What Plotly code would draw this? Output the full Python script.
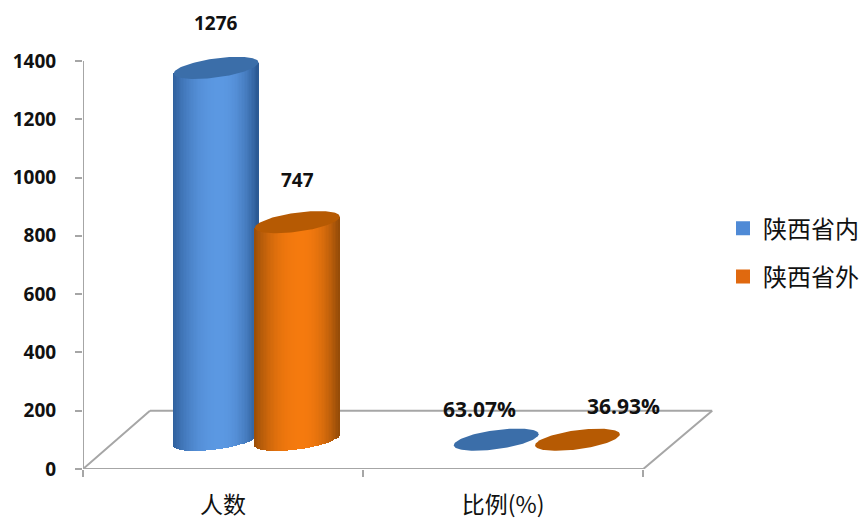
import numpy as np
import plotly.graph_objects as go

categories = ["人数", "比例(%)"]
series_names = ["陕西省内", "陕西省外"]
inside_values = [1276, 63.07]
outside_values = [747, 36.93]
inside_labels = ["1276", "63.07%"]
outside_labels = ["747", "36.93%"]
y_ticks = [0, 200, 400, 600, 800, 1000, 1200, 1400]

FLOOR = 100
OFFSETS = [0.475, 0.765]
HALF = 0.1515
CAP_B = 33
CAP_TILT = 19
STRIPS = 60
GREY = "#a6a6a6"
TEXT = "#111111"
CJK = "Noto Sans CJK SC"
LATIN = "Open Sans"
SIDE = [("#2f5f9c", "#5b98e2", "#2a5791"), ("#9a4e08", "#f57a0e", "#924a08")]
CAP = ["#3b6ea9", "#b65a03"]
LEGEND = ["#4f8ad6", "#e0690f"]
# label shifts from the top of each cylinder: (x, y) for [series][category]
LABEL_SHIFT = [[(0.0, 155), (-0.06, 105)], [(0.0, 146), (0.164, 117)]]
PLOT_TOP = 1568
X_MAX = 781 / 280.5


def mix(c1, c2, f):
    a = [int(c1[i:i + 2], 16) for i in (1, 3, 5)]
    b = [int(c2[i:i + 2], 16) for i in (1, 3, 5)]
    return "rgb(%d,%d,%d)" % tuple(round(p + (q - p) * f) for p, q in zip(a, b))


def height(values, i):
    # the percentages are plotted as fractions on the count scale
    return values[i] if i == 0 else values[i] / 100


fig = go.Figure()
for s, values in enumerate([inside_values, outside_values]):
    t = (np.arange(STRIPS) + 0.5) / STRIPS * 2 - 1
    xs = OFFSETS[s] + t * HALF
    tops = FLOOR + height(values, 0) + CAP_TILT * t
    lows = FLOOR + CAP_TILT * t - CAP_B * np.sqrt(1 - t ** 2)
    left, mid, right = SIDE[s]
    colors = []
    for u in t:
        if u < 0.1:
            colors.append(mix(mid, left, (abs(u - 0.1) / 1.1) ** 2.2))
        else:
            colors.append(mix(mid, right, ((u - 0.1) / 0.9) ** 2.2))
    fig.add_trace(go.Bar(x=xs, y=tops - lows, base=lows, width=HALF * 2 / STRIPS * 1.25,
                         marker=dict(color=colors, line=dict(width=0)),
                         showlegend=False, hoverinfo="skip"))

theta = np.linspace(0, 2 * np.pi, 121)
for s, values in enumerate([inside_values, outside_values]):
    for i in range(len(categories)):
        c_y = FLOOR + height(values, i)
        fig.add_trace(go.Scatter(
            x=i + OFFSETS[s] + HALF * np.cos(theta),
            y=c_y + CAP_TILT * np.cos(theta) + CAP_B * np.sin(theta),
            mode="lines", fill="toself", fillcolor=CAP[s], line=dict(width=0),
            showlegend=False, hoverinfo="skip", cliponaxis=False))

# legend entries
for s, name in enumerate(series_names):
    fig.add_trace(go.Bar(x=[None], y=[None], name=name, legendgroup=name,
                         marker=dict(color=LEGEND[s], line=dict(color=LEGEND[s], width=2))))

# floor: the near edges
fig.add_trace(go.Scatter(x=[0.239, 0, 2, 2.246], y=[200, 0, 0, 200], mode="lines",
                         line=dict(color=GREY, width=2), showlegend=False,
                         hoverinfo="skip", cliponaxis=False))
# value axis line stops at the last tick
fig.add_trace(go.Scatter(x=[0, 0], y=[0, y_ticks[-1]], mode="lines",
                         line=dict(color=GREY, width=2), showlegend=False,
                         hoverinfo="skip", cliponaxis=False))
# floor: the far edge, behind the cylinders
fig.add_shape(type="line", xref="x", yref="y", x0=0.239, x1=2.246, y0=200, y1=200,
              line=dict(color=GREY, width=2), layer="below")

for s, (values, labels) in enumerate([(inside_values, inside_labels), (outside_values, outside_labels)]):
    for i in range(len(categories)):
        dx, dy = LABEL_SHIFT[s][i]
        fig.add_annotation(x=i + OFFSETS[s] + dx, y=FLOOR + height(values, i) + dy,
                           text=labels[i], showarrow=False,
                           font=dict(family=LATIN, size=19 if i == 0 else 21, color=TEXT, weight=700))

fig.update_layout(
    width=864, height=521, margin=dict(l=83, r=0, t=12, b=52),
    paper_bgcolor="white", plot_bgcolor="white", barmode="overlay", bargap=0,
    legend=dict(x=0.82, y=0.575, xanchor="left", yanchor="top",
                bgcolor="rgba(0,0,0,0)", entrywidth=100, entrywidthmode="pixels",
                font=dict(family=CJK, size=24, color=TEXT), tracegroupgap=14,
                itemclick=False, itemdoubleclick=False),
    xaxis=dict(range=[0, X_MAX], showgrid=False, zeroline=False, showline=False,
               tickmode="array", tickvals=[0.5, 1.5], ticktext=categories,
               ticks="outside", ticklen=15, tickcolor="rgba(0,0,0,0)",
               tickfont=dict(family=CJK, size=23, color=TEXT),
               minor=dict(tickmode="array", tickvals=[0, 1, 2], ticks="outside",
                          ticklen=7, tickwidth=2, tickcolor=GREY)),
    yaxis=dict(range=[0, PLOT_TOP], showgrid=False, zeroline=False, showline=False,
               tickmode="array", tickvals=y_ticks, ticklabelstandoff=15,
               ticks="outside", ticklen=7, tickwidth=2, tickcolor=GREY,
               tickfont=dict(family=LATIN, size=19, color=TEXT, weight=700)),
)
fig.write_html("out.html", config={"displayModeBar": False},
               post_script="document.body.style.margin='0';")
